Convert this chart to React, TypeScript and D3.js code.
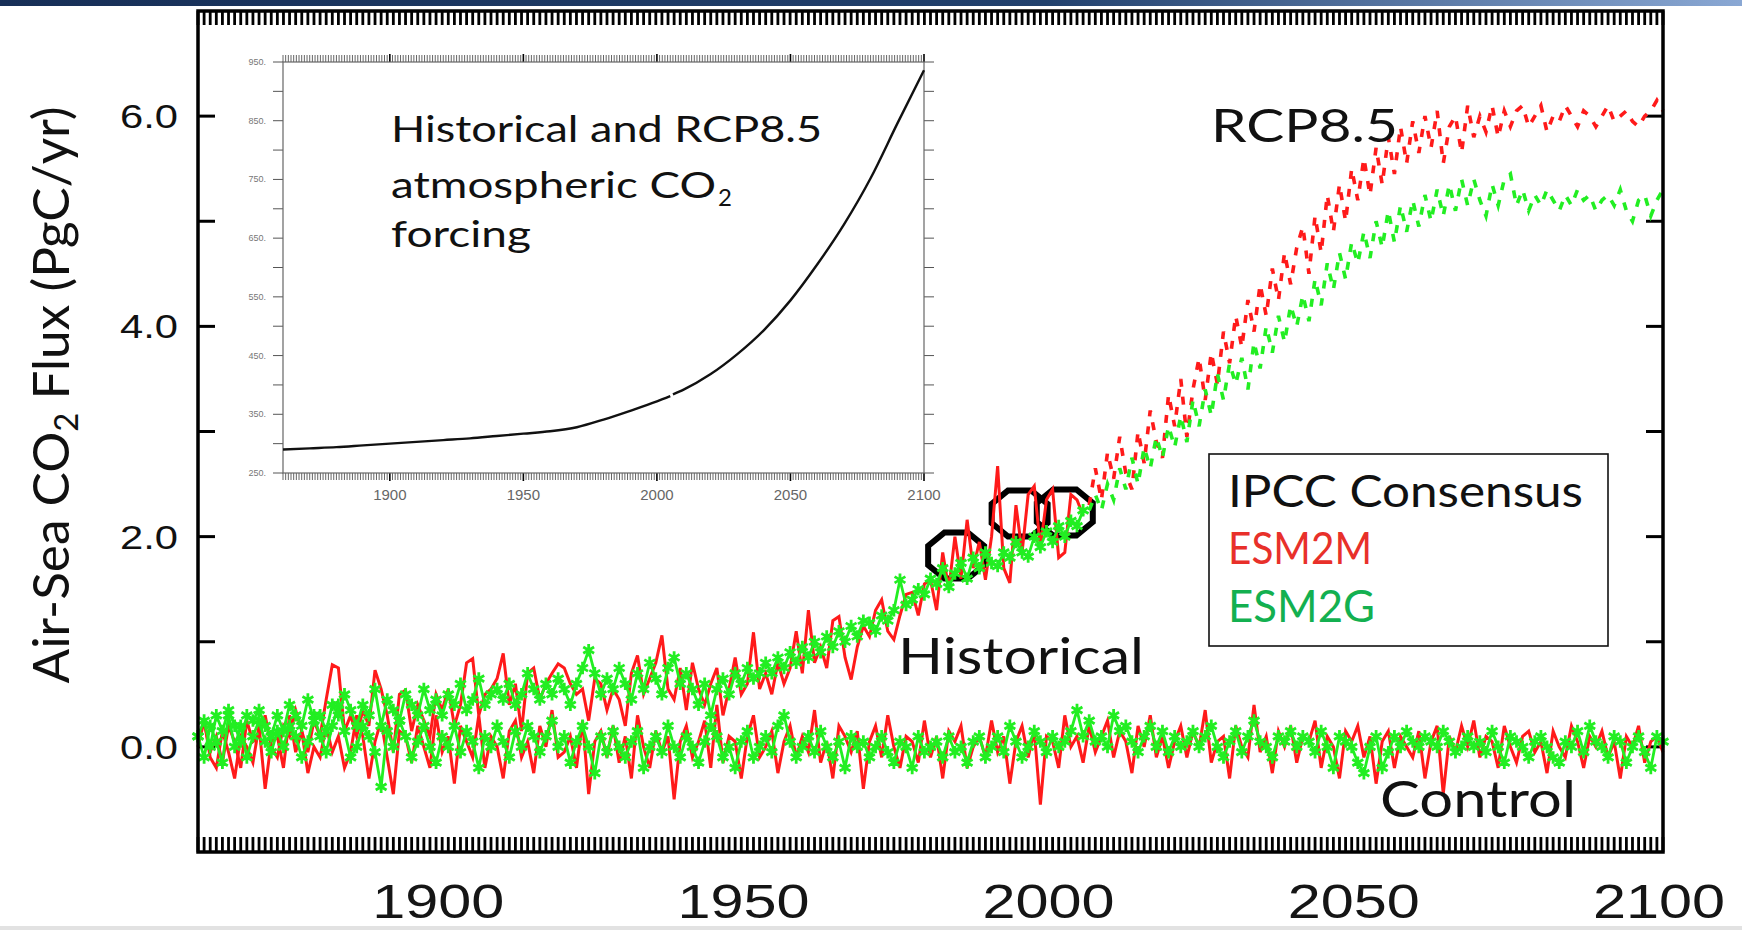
import React from "react";
import * as d3 from "d3";

// ---- Data (PgC/yr, one value per model year) ----
const CONTROL_START = 1860;
const controlESM2M = [
  0.05, 0.25, -0.1, -0.2, 0.15, -0.05, -0.3, 0.1, 0.0, -0.15,
  0.2, -0.4, 0.05, 0.1, -0.2, 0.3, -0.05, 0.15, -0.25, 0.0,
  -0.1, 0.2, -0.05, 0.1, -0.2, -0.05, 0.3, 0.1, -0.3, 0.05,
  0.25, -0.1, -0.45, 0.15, 0.1, -0.15, 0.2, 0.0, -0.2, 0.3,
  -0.05, 0.1, -0.35, 0.2, 0.05, -0.1, 0.3, -0.2, 0.1, 0.0,
  -0.3, 0.15, 0.25, -0.1, 0.05, -0.25, 0.2, 0.0, 0.35, -0.1,
  -0.05, 0.1, -0.2, 0.25, -0.45, 0.05, 0.15, -0.1, 0.2, -0.15,
  0.1, -0.3, 0.3, 0.0, -0.2, 0.15, -0.05, 0.1, -0.5, 0.05,
  0.2, -0.1, 0.05, 0.25, -0.2, 0.4, -0.15, 0.1, 0.05, -0.3,
  0.1, 0.3, -0.1, 0.0, 0.15, -0.25, 0.05, 0.2, -0.1, 0.1,
  -0.05, 0.35, -0.15, 0.05, -0.3, 0.2, 0.1, -0.05, 0.15, -0.4,
  0.05, 0.2, -0.1, 0.3, 0.0, -0.2, 0.1, 0.05, -0.15, 0.25,
  -0.1, 0.1, -0.3, 0.15, 0.05, 0.2, -0.2, 0.0, 0.1, -0.1,
  0.25, -0.05, 0.1, -0.35, 0.05, 0.2, -0.1, 0.15, -0.55, 0.1,
  0.05, -0.2, 0.3, 0.0, 0.1, -0.15, 0.2, -0.05, 0.1, 0.25,
  -0.1, 0.15, 0.05, -0.25, 0.2, 0.0, 0.3, -0.1, 0.1, -0.2,
  0.05, 0.2, -0.1, 0.15, 0.0, 0.35, -0.15, 0.05, 0.1, -0.3,
  0.2, 0.0, -0.1, 0.4, -0.05, 0.1, -0.25, 0.15, 0.0, 0.2,
  -0.15, 0.1, 0.05, 0.25, -0.2, 0.1, 0.0, -0.3, 0.15, 0.05,
  0.2, -0.1, 0.1, -0.35, 0.05, 0.15, -0.2, 0.1, 0.0, -0.1,
  0.15, -0.3, 0.05, 0.2, -0.45, 0.1, -0.05, 0.2, 0.0, 0.25,
  -0.1, 0.1, 0.05, -0.2, 0.2, 0.0, -0.15, 0.1, 0.15, -0.05,
  0.05, -0.25, 0.15, 0.0, -0.1, 0.2, 0.05, -0.2, 0.1, 0.0,
  0.15, -0.1, 0.05, -0.3, 0.1, 0.0, 0.2, -0.15, 0.05, 0.1,
  -0.05,
];
const controlESM2G = [
  0.1, -0.1, 0.2, 0.05, -0.15, 0.3, 0.0, 0.2, -0.1, 0.1,
  0.25, 0.05, -0.05, 0.15, 0.0, 0.2, 0.1, -0.1, 0.05, 0.3,
  0.1, -0.05, 0.2, 0.4, 0.15, -0.1, 0.0, 0.2, 0.1, -0.05,
  -0.38, 0.15, 0.0, 0.25, 0.1, -0.1, 0.05, 0.2, 0.0, -0.15,
  0.1, 0.0, 0.2, -0.05, 0.15, 0.05, -0.2, 0.1, 0.0, 0.2,
  0.05, -0.1, 0.15, 0.0, 0.2, 0.1, -0.05, 0.1, 0.25, 0.0,
  0.1, -0.15, 0.05, 0.2, 0.0, -0.25, 0.1, -0.05, 0.15, 0.0,
  -0.1, 0.05, 0.15, -0.2, 0.0, 0.1, -0.05, 0.2, 0.0, -0.1,
  0.1, 0.0, -0.15, 0.05, 0.2, 0.1, -0.1, 0.0, -0.2, 0.05,
  0.15, -0.1, 0.0, 0.1, -0.05, 0.2, 0.3, 0.05, -0.1, 0.0,
  0.1, -0.05, 0.15, 0.0, -0.1, 0.05, -0.2, 0.1, 0.0, 0.05,
  -0.1, 0.0, 0.1, -0.05, -0.15, 0.05, 0.0, -0.2, 0.1, -0.05,
  0.0, 0.05, -0.1, 0.1, -0.05, 0.0, -0.15, 0.05, 0.1, -0.1,
  0.0, 0.1, -0.05, 0.2, 0.05, -0.1, 0.0, 0.15, 0.05, -0.05,
  0.1, 0.0, 0.05, 0.15, 0.35, 0.1, 0.25, 0.05, 0.1, 0.0,
  0.3, 0.15, 0.2, 0.05, -0.05, 0.1, 0.2, 0.0, 0.15, -0.05,
  0.1, 0.0, 0.05, 0.15, 0.0, 0.1, 0.2, 0.0, -0.1, 0.05,
  0.15, -0.05, 0.1, 0.25, 0.05, 0.0, -0.1, 0.1, 0.05, 0.15,
  0.0, 0.1, 0.05, -0.05, 0.15, 0.0, -0.2, 0.1, 0.05, 0.0,
  -0.15, -0.25, 0.0, 0.1, -0.2, -0.05, 0.1, 0.0, 0.15, 0.05,
  0.0, 0.1, 0.05, 0.0, 0.15, 0.05, -0.05, 0.0, 0.1, 0.0,
  0.05, -0.05, 0.15, 0.0, -0.15, 0.1, 0.05, 0.0, -0.1, 0.05,
  0.1, 0.0, -0.1, -0.15, 0.05, 0.0, 0.15, -0.05, 0.2, 0.05,
  0.0, -0.1, 0.1, 0.05, -0.15, 0.0, 0.1, -0.05, -0.2, 0.1,
  0.05,
];

const HIST_START = 1860;
const histESM2M = [
  0.0, 0.25, -0.05, 0.1, -0.15, 0.2, 0.05, -0.2, 0.25, 0.05,
  0.1, 0.3, 0.0, -0.1, 0.2, 0.1, 0.35, 0.15, -0.05, 0.25,
  0.1, 0.45, 0.78, 0.75, 0.15, 0.3, 0.1, 0.35, 0.2, 0.73,
  0.55, 0.3, -0.05, 0.5, 0.54, 0.15, 0.4, 0.25, 0.1, 0.5,
  0.35, 0.55, 0.2, 0.4, 0.8, 0.84, 0.3, 0.5, 0.55, 0.65,
  0.89, 0.4, 0.6, 0.15, 0.7, 0.75, 0.45, 0.6, 0.7, 0.79,
  0.75, 0.6, 0.5, 0.55, 0.25, 0.65, 0.6, 0.35, 0.55, 0.45,
  0.2, 0.7, 0.87, 0.5, 0.65, 0.8, 1.06, 0.55, 0.45, 0.75,
  0.35, 0.8, 0.55, 0.4, 0.6, 0.75, 0.3, 0.55, 0.85, 0.5,
  0.6, 1.09, 0.55, 0.7, 0.5, 0.8, 0.6, 0.75, 1.1, 0.7,
  1.3, 0.8, 0.95, 0.75, 1.2, 1.24, 0.85, 0.64, 0.95, 1.15,
  1.05, 1.3, 1.4, 1.1, 1.02, 1.25, 1.45, 1.47, 1.25, 1.55,
  1.59, 1.3, 1.85, 1.5, 2.0, 1.6, 2.16, 1.7, 1.95, 1.59,
  2.0, 2.67, 1.7, 1.56, 2.3, 1.85, 2.4, 2.48, 1.9, 2.35,
  2.45, 1.8, 1.85, 2.4, 2.35, 2.2,
];
const histESM2G = [
  0.1, 0.25, 0.0, 0.3, 0.15, 0.35, 0.2, 0.05, 0.3, 0.25,
  0.35, 0.2, 0.1, 0.3, 0.15, 0.4, 0.3, 0.2, 0.45, 0.25,
  0.3, 0.15, 0.4, 0.3, 0.5, 0.35, 0.2, 0.4, 0.3, 0.55,
  0.2, 0.45, 0.35, 0.25, 0.5, 0.4, 0.3, 0.55, 0.35, 0.45,
  0.3, 0.5, 0.4, 0.6, 0.35, 0.45, 0.65, 0.4, 0.5, 0.55,
  0.45, 0.6, 0.4, 0.5, 0.7, 0.55, 0.45, 0.6, 0.5, 0.65,
  0.55, 0.4, 0.6, 0.75, 0.92, 0.7, 0.5, 0.65, 0.55, 0.75,
  0.6, 0.45, 0.7, 0.55, 0.8, 0.65, 0.5, 0.75, 0.85, 0.6,
  0.7, 0.55, 0.4, 0.6, 0.3, 0.55, 0.65, 0.5, 0.7, 0.6,
  0.75, 0.65, 0.7, 0.8, 0.7, 0.85, 0.75, 0.9, 0.8, 0.95,
  0.85, 1.0, 0.9, 1.05, 0.95, 1.1, 1.0, 1.15, 1.05, 1.2,
  1.18, 1.1, 1.25, 1.2, 1.3, 1.59, 1.35, 1.4, 1.5, 1.45,
  1.6, 1.55, 1.7, 1.52, 1.65, 1.75, 1.6, 1.8, 1.7, 1.85,
  1.75, 1.72, 1.85, 1.8, 1.95, 1.85, 1.81, 2.0, 1.9, 2.05,
  1.95, 2.1, 2.0, 2.15, 2.1, 2.25,
];

const RCP_START = 2006;
const rcpESM2M = [
  2.3, 2.65, 2.35, 2.8,
  2.55, 2.95, 2.6, 2.45, 3.0, 2.7, 3.2, 2.9, 2.75, 3.35,
  3.05, 3.5, 2.95, 3.4, 3.7, 3.3, 3.75, 3.45, 3.95, 3.65,
  4.1, 3.8, 4.25, 3.95, 4.4, 4.1, 4.55, 4.25, 4.7, 4.4,
  4.75, 4.95, 4.5, 5.05, 4.7, 5.25, 4.9, 5.35, 5.0, 5.5,
  5.2, 5.6, 5.25, 5.7, 5.35, 5.8, 5.45, 5.9, 5.55, 5.95,
  5.65, 6.0, 5.7, 6.05, 5.55, 5.9, 6.0, 5.65, 6.1, 5.8,
  6.0, 5.85, 6.1, 5.8, 6.05, 5.9, 6.05, 6.1, 5.9, 6.0,
  6.1, 5.85, 6.0, 5.95, 6.1, 6.0, 5.9, 6.05, 6.0, 5.9,
  6.0, 6.1, 5.95, 6.0, 6.05, 5.95, 5.9, 6.0, 6.05, 6.15,
  6.05,
];
const rcpESM2G = [
  2.25, 2.4, 2.25, 2.5,
  2.35, 2.65, 2.45, 2.75, 2.5, 2.85, 2.65, 2.95, 2.75, 3.05,
  2.85, 3.15, 2.9, 3.3, 3.05, 3.4, 3.15, 3.55, 3.3, 3.65,
  3.45, 3.7, 3.4, 3.85, 3.6, 4.0, 3.75, 4.1, 3.85, 4.2,
  4.0, 4.3, 4.05, 4.45, 4.2, 4.6, 4.35, 4.7, 4.45, 4.8,
  4.6, 4.9, 4.65, 5.0, 4.75, 5.1, 4.8, 5.15, 4.9, 5.2,
  4.95, 5.25, 5.0, 5.3, 5.05, 5.35, 5.1, 5.4, 5.15, 5.4,
  5.2, 5.05, 5.35, 5.15, 5.4, 5.45, 5.15, 5.3, 5.1, 5.25,
  5.15, 5.3, 5.2, 5.1, 5.25, 5.15, 5.3, 5.2, 5.25, 5.1,
  5.2, 5.25, 5.15, 5.3, 5.1, 5.0, 5.2, 5.25, 5.05, 5.2,
  5.3,
];

// Observation-based estimates circled on the historical curve
const obsYears = [1984.2, 1994.6, 2002.0];
const obsValues = [1.82, 2.22, 2.23];

// Atmospheric CO2 (ppm) used as forcing
const co2HistYears = [1860, 1870, 1880, 1890, 1900, 1910, 1920, 1930, 1940, 1950, 1960, 1970, 1980, 1990, 2000, 2005];
const co2HistPpm = [290, 292, 294, 297, 300, 303, 306, 309, 313, 317, 321, 328, 341, 356, 372, 381];
const co2RcpYears = [2006, 2010, 2020, 2030, 2040, 2050, 2060, 2070, 2080, 2090, 2100];
const co2RcpPpm = [384, 392, 418, 452, 493, 544, 605, 673, 752, 845, 936];

// Axis labels
const mainYLabels = [0, 2, 4, 6];
const mainYTicks = [0, 1, 2, 3, 4, 5, 6];
const xLabelYears = [1900, 1950, 2000, 2050, 2100];
const insetYLabels = [250, 350, 450, 550, 650, 750, 850, 950];
const insetYTicks = [250, 300, 350, 400, 450, 500, 550, 600, 650, 700, 750, 800, 850, 900, 950];

// Colours
const RED = "#ff1a1a";
const GREEN = "#22ee22";
const LEGEND_RED = "#e8302a";
const LEGEND_GREEN = "#13b050";

const CALIBRI = "Lato, 'Open Sans', sans-serif";
const ARIAL = "'Liberation Sans', Arial, sans-serif";

type Pt = [number, number];
const series = (start: number, vals: number[]): Pt[] => vals.map((v, i) => [start + i, v]);

export default function App() {
  const W = 1742;
  const H = 930;

  // main panel
  const x = d3.scaleLinear().domain([1860, 2100]).range([198, 1663]);
  const y = d3.scaleLinear().domain([-1, 7]).range([852, 11]);
  const line = d3.line<Pt>().x((d) => x(d[0])).y((d) => y(d[1]));

  // inset panel
  const ix = d3.scaleLinear().domain([1860, 2100]).range([283, 924]);
  const iy = d3.scaleLinear().domain([250, 950]).range([473, 62]);
  const iline = d3.line<Pt>().x((d) => ix(d[0])).y((d) => iy(d[1])).curve(d3.curveMonotoneX);

  const yearTicks = d3.range(1860, 2101, 1);
  const star = d3.symbol(d3.symbolAsterisk, 110)() as string;

  const octagon = (cx: number, cy: number, rx: number, ry: number) => {
    const pts: Pt[] = d3.range(8).map((k) => {
      const a = ((22.5 + 45 * k) * Math.PI) / 180;
      return [cx + (rx * Math.cos(a)) / Math.cos(Math.PI / 8), cy + (ry * Math.sin(a)) / Math.cos(Math.PI / 8)];
    });
    return d3.line<Pt>().curve(d3.curveLinearClosed)(pts) as string;
  };

  const ctrlM = series(CONTROL_START, controlESM2M);
  const ctrlG = series(CONTROL_START, controlESM2G);
  const histM = series(HIST_START, histESM2M);
  const histG = series(HIST_START, histESM2G);
  const rcpM = series(RCP_START, rcpESM2M);
  const rcpG = series(RCP_START, rcpESM2G);

  const co2Hist: Pt[] = co2HistYears.map((yr, i) => [yr, co2HistPpm[i]]);
  const co2Rcp: Pt[] = co2RcpYears.map((yr, i) => [yr, co2RcpPpm[i]]);

  return (
    <svg
      width={W}
      height={H}
      viewBox={`0 0 ${W} ${H}`}
      style={{ position: "absolute", left: 0, top: 0, background: "#fff" }}
    >
      <defs>
        <linearGradient id="hdr" x1="0" x2="1" y1="0" y2="0">
          <stop offset="0" stopColor="#172f57" />
          <stop offset="0.6" stopColor="#22416d" />
          <stop offset="1" stopColor="#8aa8d4" />
        </linearGradient>
      </defs>
      <rect x={0} y={0} width={W} height={H} fill="#fff" />
      <rect x={0} y={0} width={W} height={6} fill="url(#hdr)" />

      {/* year ticks along top and bottom of the main frame */}
      <g stroke="#000" strokeWidth={2.8}>
        {yearTicks.map((yr) => (
          <line key={`t${yr}`} x1={x(yr)} x2={x(yr)} y1={y(7)} y2={y(7) + 14} />
        ))}
        {yearTicks.map((yr) => (
          <line key={`b${yr}`} x1={x(yr)} x2={x(yr)} y1={y(-1)} y2={y(-1) - 15} />
        ))}
      </g>
      <g stroke="#000" strokeWidth={3}>
        {mainYTicks.map((v) => (
          <g key={`yt${v}`}>
            <line x1={x(1860)} x2={x(1860) + 17} y1={y(v)} y2={y(v)} />
            <line x1={x(2100)} x2={x(2100) - 17} y1={y(v)} y2={y(v)} />
          </g>
        ))}
      </g>

      {/* observational estimates */}
      <g fill="none" stroke="#000" strokeWidth={6}>
        {obsYears.map((yr, i) => (
          <path key={`ob${i}`} d={octagon(x(yr), y(obsValues[i]), 28, 23)} />
        ))}
      </g>

      {/* ESM2M (red) */}
      <path d={line(histM) as string} fill="none" stroke={RED} strokeWidth={3} />
      <path d={line(ctrlM) as string} fill="none" stroke={RED} strokeWidth={3} />

      {/* ESM2G (green with markers) */}
      <path d={line(ctrlG) as string} fill="none" stroke={GREEN} strokeWidth={2.8} />
      <path d={line(histG) as string} fill="none" stroke={GREEN} strokeWidth={2.8} />
      <g fill="none" stroke={GREEN} strokeWidth={2.8}>
        {ctrlG.map((d, i) => (
          <path key={`cm${i}`} d={star} transform={`translate(${x(d[0])},${y(d[1])})`} />
        ))}
        {histG.map((d, i) => (
          <path key={`hm${i}`} d={star} transform={`translate(${x(d[0])},${y(d[1])})`} />
        ))}
      </g>

      {/* RCP8.5 projections */}
      <path d={line(rcpM) as string} fill="none" stroke={RED} strokeWidth={3.6} strokeDasharray="8 10" />
      <path d={line(rcpG) as string} fill="none" stroke={GREEN} strokeWidth={3.6} strokeDasharray="8 10" />

      {/* main frame */}
      <rect x={x(1860)} y={y(7)} width={x(2100) - x(1860)} height={y(-1) - y(7)} fill="none" stroke="#000" strokeWidth={3.5} />

      {/* main axis labels */}
      <g fontFamily={ARIAL} fontSize={34} fill="#111">
        {mainYLabels.map((v) => (
          <text key={`yl${v}`} x={178} y={y(v) + 12} textAnchor="end" textLength={58} lengthAdjust="spacingAndGlyphs">
            {v.toFixed(1)}
          </text>
        ))}
      </g>
      <g fontFamily={ARIAL} fontSize={48} fill="#151515">
        {xLabelYears.map((yr) => (
          <text key={`xl${yr}`} x={x(yr) - 4} y={918} textAnchor="middle" textLength={132} lengthAdjust="spacingAndGlyphs">
            {yr}
          </text>
        ))}
      </g>
      <text
        transform="translate(69,395) rotate(-90)"
        textAnchor="middle"
        fontFamily={CALIBRI}
        fontSize={50}
        fill="#111"
        textLength={577}
        lengthAdjust="spacingAndGlyphs"
      >
        Air-Sea CO
        <tspan fontSize={32} dy={9}>2</tspan>
        <tspan dy={-9}> Flux (PgC/yr)</tspan>
      </text>

      {/* scenario annotations */}
      <g fontFamily={CALIBRI} fill="#111">
        <text x={1211} y={142} fontSize={46} textLength={187} lengthAdjust="spacingAndGlyphs">RCP8.5</text>
        <text x={898} y={674} fontSize={50} textLength={246} lengthAdjust="spacingAndGlyphs">Historical</text>
        <text x={1380} y={817} fontSize={50} textLength={196} lengthAdjust="spacingAndGlyphs">Control</text>
      </g>

      {/* legend */}
      <rect x={1209} y={454} width={399} height={192} fill="#fff" stroke="#111" strokeWidth={1.6} />
      <g fontFamily={CALIBRI} fontSize={44}>
        <text x={1228} y={507} fill="#111" textLength={355} lengthAdjust="spacingAndGlyphs">IPCC Consensus</text>
        <text x={1228} y={564} fill={LEGEND_RED} textLength={144} lengthAdjust="spacingAndGlyphs">ESM2M</text>
        <text x={1228} y={622} fill={LEGEND_GREEN} textLength={147} lengthAdjust="spacingAndGlyphs">ESM2G</text>
      </g>

      {/* inset: CO2 forcing */}
      <rect x={ix(1860)} y={iy(950)} width={ix(2100) - ix(1860)} height={iy(250) - iy(950)} fill="#fff" />
      <g stroke="#555" strokeWidth={1}>
        {yearTicks.map((yr) => (
          <g key={`it${yr}`}>
            <line x1={ix(yr)} x2={ix(yr)} y1={iy(950)} y2={iy(950) - (yr % 50 === 0 ? 8 : 7)} stroke={yr % 50 === 0 ? "#000" : "#666"} strokeWidth={yr % 50 === 0 ? 1.6 : 1} />
            <line x1={ix(yr)} x2={ix(yr)} y1={iy(250)} y2={iy(250) + (yr % 50 === 0 ? 8 : 7)} stroke={yr % 50 === 0 ? "#000" : "#666"} strokeWidth={yr % 50 === 0 ? 1.6 : 1} />
          </g>
        ))}
        {insetYTicks.map((v) => (
          <g key={`iy${v}`}>
            <line x1={ix(1860)} x2={ix(1860) - 10} y1={iy(v)} y2={iy(v)} />
            <line x1={ix(2100)} x2={ix(2100) + 10} y1={iy(v)} y2={iy(v)} />
          </g>
        ))}
      </g>
      <rect x={ix(1860)} y={iy(950)} width={ix(2100) - ix(1860)} height={iy(250) - iy(950)} fill="none" stroke="#666" strokeWidth={1.2} />
      <path d={iline(co2Hist) as string} fill="none" stroke="#111" strokeWidth={2.4} />
      <path d={iline(co2Rcp) as string} fill="none" stroke="#111" strokeWidth={2.4} />
      <g fontFamily={ARIAL} fontSize={9} fill="#777">
        {insetYLabels.map((v) => (
          <text key={`iyl${v}`} x={ix(1860) - 17} y={iy(v) + 3} textAnchor="end">
            {`${v}.`}
          </text>
        ))}
      </g>
      <g fontFamily={ARIAL} fontSize={15} fill="#666">
        {xLabelYears.map((yr) => (
          <text key={`ixl${yr}`} x={ix(yr)} y={500} textAnchor="middle">
            {yr}
          </text>
        ))}
      </g>
      <g fontFamily={CALIBRI} fill="#111" fontSize={36}>
        <text x={391} y={142} textLength={431} lengthAdjust="spacingAndGlyphs">Historical and RCP8.5</text>
        <text x={391} y={198} textLength={325} lengthAdjust="spacingAndGlyphs">atmospheric CO</text>
        <text x={718} y={206} fontSize={24}>2</text>
        <text x={391} y={247} textLength={140} lengthAdjust="spacingAndGlyphs">forcing</text>
      </g>

      {/* strip along the bottom edge */}
      <rect x={0} y={926} width={W} height={4} fill="#e2e2e2" />
    </svg>
  );
}
